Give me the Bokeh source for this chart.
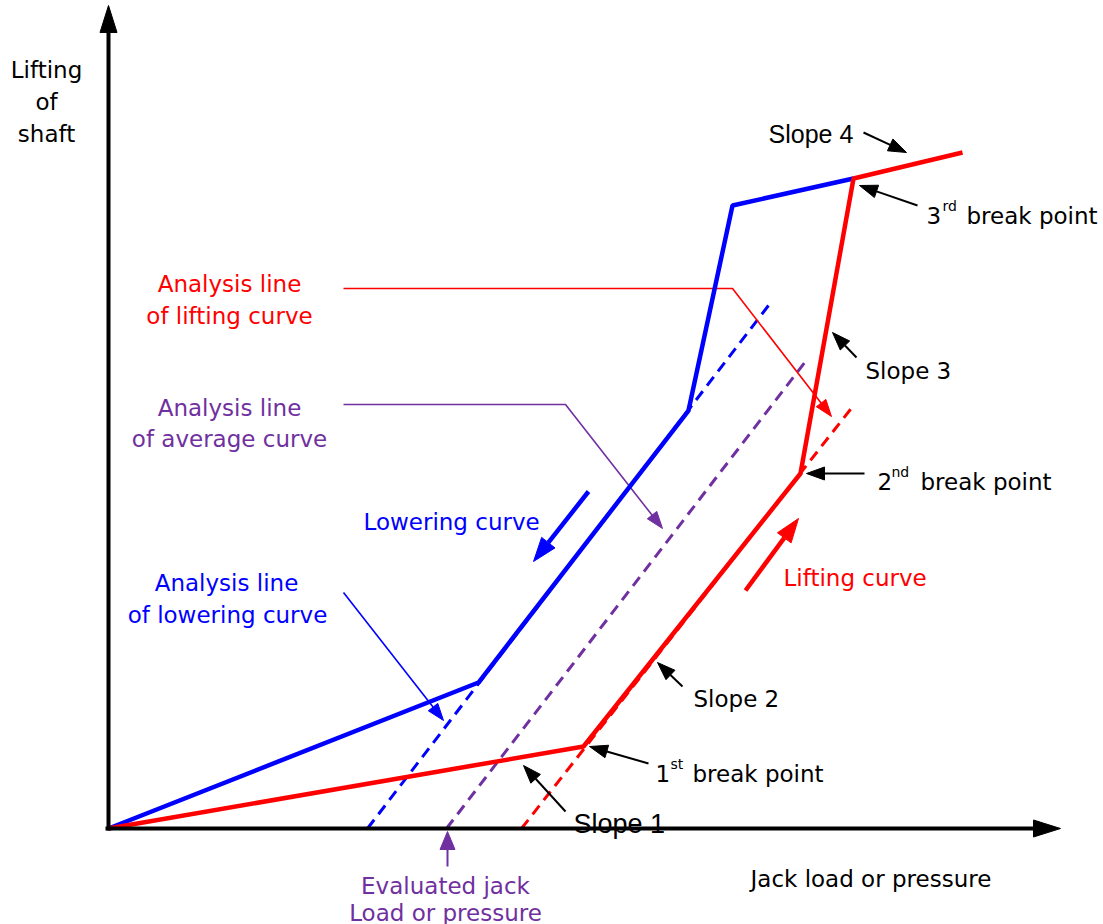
import numpy as np
from bokeh.plotting import figure
from bokeh.models import Range1d, ColumnDataSource
from bokeh.core.properties import value
from bokeh.embed import file_html
from bokeh.resources import INLINE

# ---------------- data (chart units: origin at the axis crossing) ----------------
# Lowering curve (blue) and lifting curve (red): jack load vs lifting of shaft
lowering_load = [0, 370, 580, 624, 745]
lowering_lift = [0, 146, 418, 623, 650]
lifting_load = [0, 475, 692, 745, 854]
lifting_lift = [0, 82, 355, 650, 676]

# Analysis (dashed) lines
lowering_analysis_load = [259, 660]
lowering_analysis_lift = [0, 523]
average_analysis_load = [338, 700]
average_analysis_lift = [0, 471]
lifting_analysis_load = [413, 745]
lifting_analysis_lift = [0, 423]

# Axis extents
x_axis_end = 952
y_axis_end = 823

# Leader lines from the left-hand labels
lift_note_load = [235, 624, 723]
lift_note_lift = [540, 540, 412]
avg_note_load = [235, 457, 554]
avg_note_lift = [424, 424, 300]
low_note_load = [235, 335]
low_note_lift = [236, 108]

# Black pointer arrows (tail -> tip)
pointer_tail_load = [755, 809, 748, 756, 574, 540, 457]
pointer_tail_lift = [696, 623, 471, 355, 142, 65, 17]
pointer_tip_load = [798, 751, 724, 698, 549, 481, 415]
pointer_tip_lift = [676, 643, 496, 355, 166, 82, 63]

# Direction arrows along the curves (tail -> tip)
lift_dir_load = [637, 690]
lift_dir_lift = [238, 310]
lower_dir_load = [480, 425]
lower_dir_lift = [337, 267]
evaluated_load = [339, 339]
evaluated_lift = [-38, -3]

BLUE = "#0000FF"
RED = "#FF0000"
PURPLE = "#7030A0"
BLACK = "#000000"
FONT = "DejaVu Sans"
FONT2 = "Liberation Sans"

W, H = 1103, 924
p = figure(width=W, height=H, output_backend="svg", toolbar_location=None,
           x_range=Range1d(-108, -108 + W), y_range=Range1d(-96, -96 + H),
           min_border=0)
p.axis.visible = False
p.grid.visible = False
p.outline_line_color = None
p.background_fill_color = "white"
p.border_fill_color = "white"


def head(tail, tip, L, Wd):
    tx, ty = tail
    px, py = tip
    d = np.hypot(px - tx, py - ty)
    ux, uy = (px - tx) / d, (py - ty) / d
    bx, by = px - L * ux, py - L * uy
    nx, ny = -uy, ux
    xs = [px, bx + Wd / 2 * nx, bx - Wd / 2 * nx]
    ys = [py, by + Wd / 2 * ny, by - Wd / 2 * ny]
    return xs, ys, (bx, by)


def arrow_line(xs, ys, color, lw, L, Wd):
    xs = list(xs)
    ys = list(ys)
    hx, hy, base = head((xs[-2], ys[-2]), (xs[-1], ys[-1]), L, Wd)
    p.line(xs[:-1] + [base[0]], ys[:-1] + [base[1]], line_color=color, line_width=lw)
    p.patch(hx, hy, fill_color=color, line_color=color, line_width=1)


# dashed analysis lines
dash = "11 7"
p.line(lowering_analysis_load, lowering_analysis_lift, line_color=BLUE, line_width=3, line_dash=dash)
p.line(average_analysis_load, average_analysis_lift, line_color=PURPLE, line_width=3, line_dash=dash)
p.line(lifting_analysis_load, lifting_analysis_lift, line_color=RED, line_width=3, line_dash=dash)

# leader lines
arrow_line(lift_note_load, lift_note_lift, RED, 1.6, 17, 12)
arrow_line(avg_note_load, avg_note_lift, PURPLE, 1.6, 17, 12)
arrow_line(low_note_load, low_note_lift, BLUE, 1.6, 17, 12)

# curves
p.line(lowering_load, lowering_lift, line_color=BLUE, line_width=4.5)
p.line(lifting_load, lifting_lift, line_color=RED, line_width=4.5)

# axes
arrow_line([-3, x_axis_end], [0, 0], BLACK, 4, 27, 17)
arrow_line([0, 0], [-2, y_axis_end], BLACK, 4, 27, 17)

# pointer arrows
for i in range(len(pointer_tail_load)):
    arrow_line([pointer_tail_load[i], pointer_tip_load[i]],
               [pointer_tail_lift[i], pointer_tip_lift[i]], BLACK, 2, 18, 13)

# direction arrows
arrow_line(lift_dir_load, lift_dir_lift, RED, 4.5, 24, 17)
arrow_line(lower_dir_load, lower_dir_lift, BLUE, 4.5, 24, 17)
arrow_line(evaluated_load, evaluated_lift, PURPLE, 2, 18, 15)


# ---------------- texts ----------------
def texts(xs, ys, labels, color, size, align="left", font=FONT):
    src = ColumnDataSource(dict(x=xs, y=ys, t=labels))
    p.text(x="x", y="y", text="t", source=src, text_color=color,
           text_font=value(font), text_font_size=value(size),
           text_align=align, text_baseline="alphabetic")


S = "23px"
SUP = "14px"
# axis titles
texts([-62, -62, -62], [759, 727, 695], ["Lifting", "of", "shaft"], BLACK, S, "center")
texts([642], [-50], ["Jack load or pressure"], BLACK, S)
texts([337, 337], [-57, -84], ["Evaluated jack", "Load or pressure"], PURPLE, S, "center")

# analysis labels
texts([121, 121], [545, 513], ["Analysis line", "of lifting curve"], RED, S, "center")
texts([121, 121], [421, 390], ["Analysis line", "of average curve"], PURPLE, S, "center")
texts([118, 119], [246, 214], ["Analysis line", "of lowering curve"], BLUE, S, "center")

# curve labels
texts([255], [307], ["Lowering curve"], BLUE, S)
texts([675], [251], ["Lifting curve"], RED, S)

# slopes
texts([660], [695], ["Slope 4"], BLACK, "25px", font=FONT2)
texts([465], [5], ["Slope 1"], BLACK, "27px", font=FONT2)
texts([757, 585], [458, 130], ["Slope 3", "Slope 2"], BLACK, S)

# break points with superscripts
texts([818, 769, 547], [613, 347, 55], ["3", "2", "1"], BLACK, S)
texts([834, 783, 562], [623, 357, 65], ["rd", "nd", "st"], BLACK, SUP)
texts([858, 812, 584], [613, 347, 55], ["break point", "break point", "break point"], BLACK, S)

open("out.html", "w").write(file_html(p, INLINE))
